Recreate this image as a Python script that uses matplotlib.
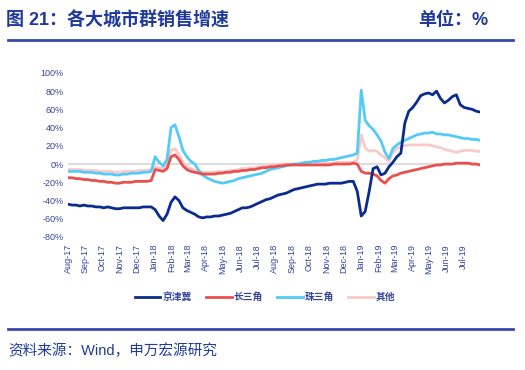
import matplotlib
matplotlib.use("Agg")
import matplotlib.pyplot as plt
import matplotlib.dates as mdates
import pandas as pd

plt.rcParams['font.family'] = ['Liberation Sans', 'Noto Sans CJK SC', 'DejaVu Sans']

# weekly sales growth (%), Aug 2017 - Jul 2019
dates = pd.date_range("2017-08-01", periods=105, freq="7D")

jjj = [-44, -45, -45, -46, -45, -46, -46, -47, -47, -48, -47, -48, -49, -49, -48, -48,
       -48, -48, -48, -47, -47, -47, -50, -57, -62, -55, -42, -36, -40, -48, -51, -53,
       -55, -58, -59, -58, -58, -57, -57, -56, -55, -54, -52, -50, -48, -48, -47, -45,
       -43, -41, -39, -38, -36, -34, -33, -32, -30, -28, -27, -26, -25, -24, -23, -22,
       -22, -22, -21, -21, -21, -21, -20, -19, -19, -30, -57, -52, -30, -5, -3, -12,
       -10, -3, 2, 8, 12, 45, 58, 62, 68, 75, 77, 78, 76, 80, 72, 67,
       70, 74, 76, 65, 62, 61, 60, 58, 57]

csj = [-15, -15, -16, -16, -17, -17, -18, -18, -19, -19, -20, -20, -21, -21, -20, -20,
       -20, -19, -19, -19, -19, -18, -6, -7, -8, -5, 8, 10, 5, -2, -6, -8,
       -9, -10, -11, -11, -11, -11, -10, -10, -9, -9, -8, -8, -7, -7, -6, -6,
       -5, -4, -4, -3, -3, -2, -2, -1, -1, -1, -1, -1, -1, -1, -1, -1,
       -1, -1, -1, 0, 0, 0, 0, 0, 1, 0, -8, -10, -10, -11, -13, -18,
       -21, -16, -13, -12, -10, -9, -8, -7, -6, -5, -4, -3, -2, -1, -1, 0,
       0, 0, 1, 1, 1, 1, 0, 0, -1]

zsj = [-8, -8, -8, -8, -9, -9, -9, -10, -10, -11, -11, -11, -12, -12, -11, -11,
       -10, -10, -10, -9, -9, -8, 8, 2, -2, 5, 40, 43, 30, 15, 8, 3,
       0, -7, -12, -15, -17, -19, -20, -21, -20, -19, -18, -16, -15, -14, -13, -12,
       -11, -10, -8, -6, -5, -4, -3, -2, -1, 0, 0, 1, 2, 2, 3, 3,
       4, 4, 5, 5, 6, 7, 8, 9, 10, 12, 81, 48, 42, 38, 32, 25,
       13, 6, 17, 21, 24, 26, 28, 30, 32, 33, 34, 34, 35, 33, 33, 32,
       32, 31, 30, 29, 28, 28, 27, 27, 26]

qt = [-6, -6, -6, -6, -7, -7, -7, -7, -8, -8, -8, -8, -9, -9, -8, -8,
      -8, -8, -7, -7, -7, -6, -3, -4, -5, 0, 15, 17, 10, 2, -3, -5,
      -7, -8, -9, -9, -9, -9, -8, -8, -8, -7, -7, -6, -5, -5, -4, -4,
      -3, -3, -2, -1, -1, -1, 0, 0, 0, 0, 0, 0, 0, 1, 1, 1,
      1, 1, 1, 1, 2, 2, 2, 2, 2, 5, 32, 18, 14, 15, 14, 10,
      7, 3, 13, 17, 19, 20, 21, 21, 21, 21, 21, 21, 20, 19, 18, 16,
      15, 14, 13, 14, 15, 15, 15, 14, 14]

series = ["京津冀", "长三角", "珠三角", "其他"]
colors = ["#0B2C8C", "#E8504E", "#52CBF7", "#F8CACA"]
values = [jjj, csj, zsj, qt]

blue_txt = "#34449E"

fig = plt.figure(figsize=(5.25, 3.7), dpi=100)
ax = fig.add_axes([0.1295, 0.3595, 0.785, 0.4435])

ax.axhline(0, color="#DDDDDD", lw=1.5, zorder=1)
for name, vals, c in zip(series[::-1], values[::-1], colors[::-1]):
    ax.plot(dates, vals, color=c, lw=2.0, label=name, zorder=2)

ax.set_ylim(-80, 100)
ax.set_yticks(range(-80, 101, 20))
ax.set_yticklabels([f"{v}%" for v in range(-80, 101, 20)])
ax.set_xlim(dates[0], dates[-1])
ax.xaxis.set_major_locator(mdates.MonthLocator())
ax.xaxis.set_major_formatter(mdates.DateFormatter("%b-%y"))
ax.tick_params(axis="x", rotation=90, labelsize=6.5, length=0, pad=5, colors=blue_txt)
ax.tick_params(axis="y", labelsize=6.5, length=0, pad=3, colors=blue_txt)
for s in ax.spines.values():
    s.set_visible(False)

handles, labels = ax.get_legend_handles_labels()
leg = fig.legend(handles[::-1], labels[::-1], loc="center", bbox_to_anchor=(0.505, 0.197),
                 ncol=4, frameon=False, fontsize=7, handlelength=2.6, columnspacing=1.5,
                 handletextpad=0.2)
for t in leg.get_texts():
    t.set_color(blue_txt)
    t.set_fontweight("bold")

# header and footer
fig.text(0.012, 0.945, "图 21：各大城市群销售增速", fontsize=13, fontweight="bold",
         color="#1F3A9C", va="center")
fig.text(0.93, 0.945, "单位：%", fontsize=13, fontweight="bold", color="#1F3A9C",
         va="center", ha="right")
fig.add_artist(plt.Line2D([0.015, 0.977], [0.893, 0.893], color="#3A48B0", lw=2))
fig.add_artist(plt.Line2D([0.015, 0.977], [0.11, 0.11], color="#3A48B0", lw=2))
fig.text(0.015, 0.052, "资料来源：Wind，申万宏源研究", fontsize=10.5, color="#1F3A9C",
         va="center")

fig.savefig("out.png", dpi=100)
